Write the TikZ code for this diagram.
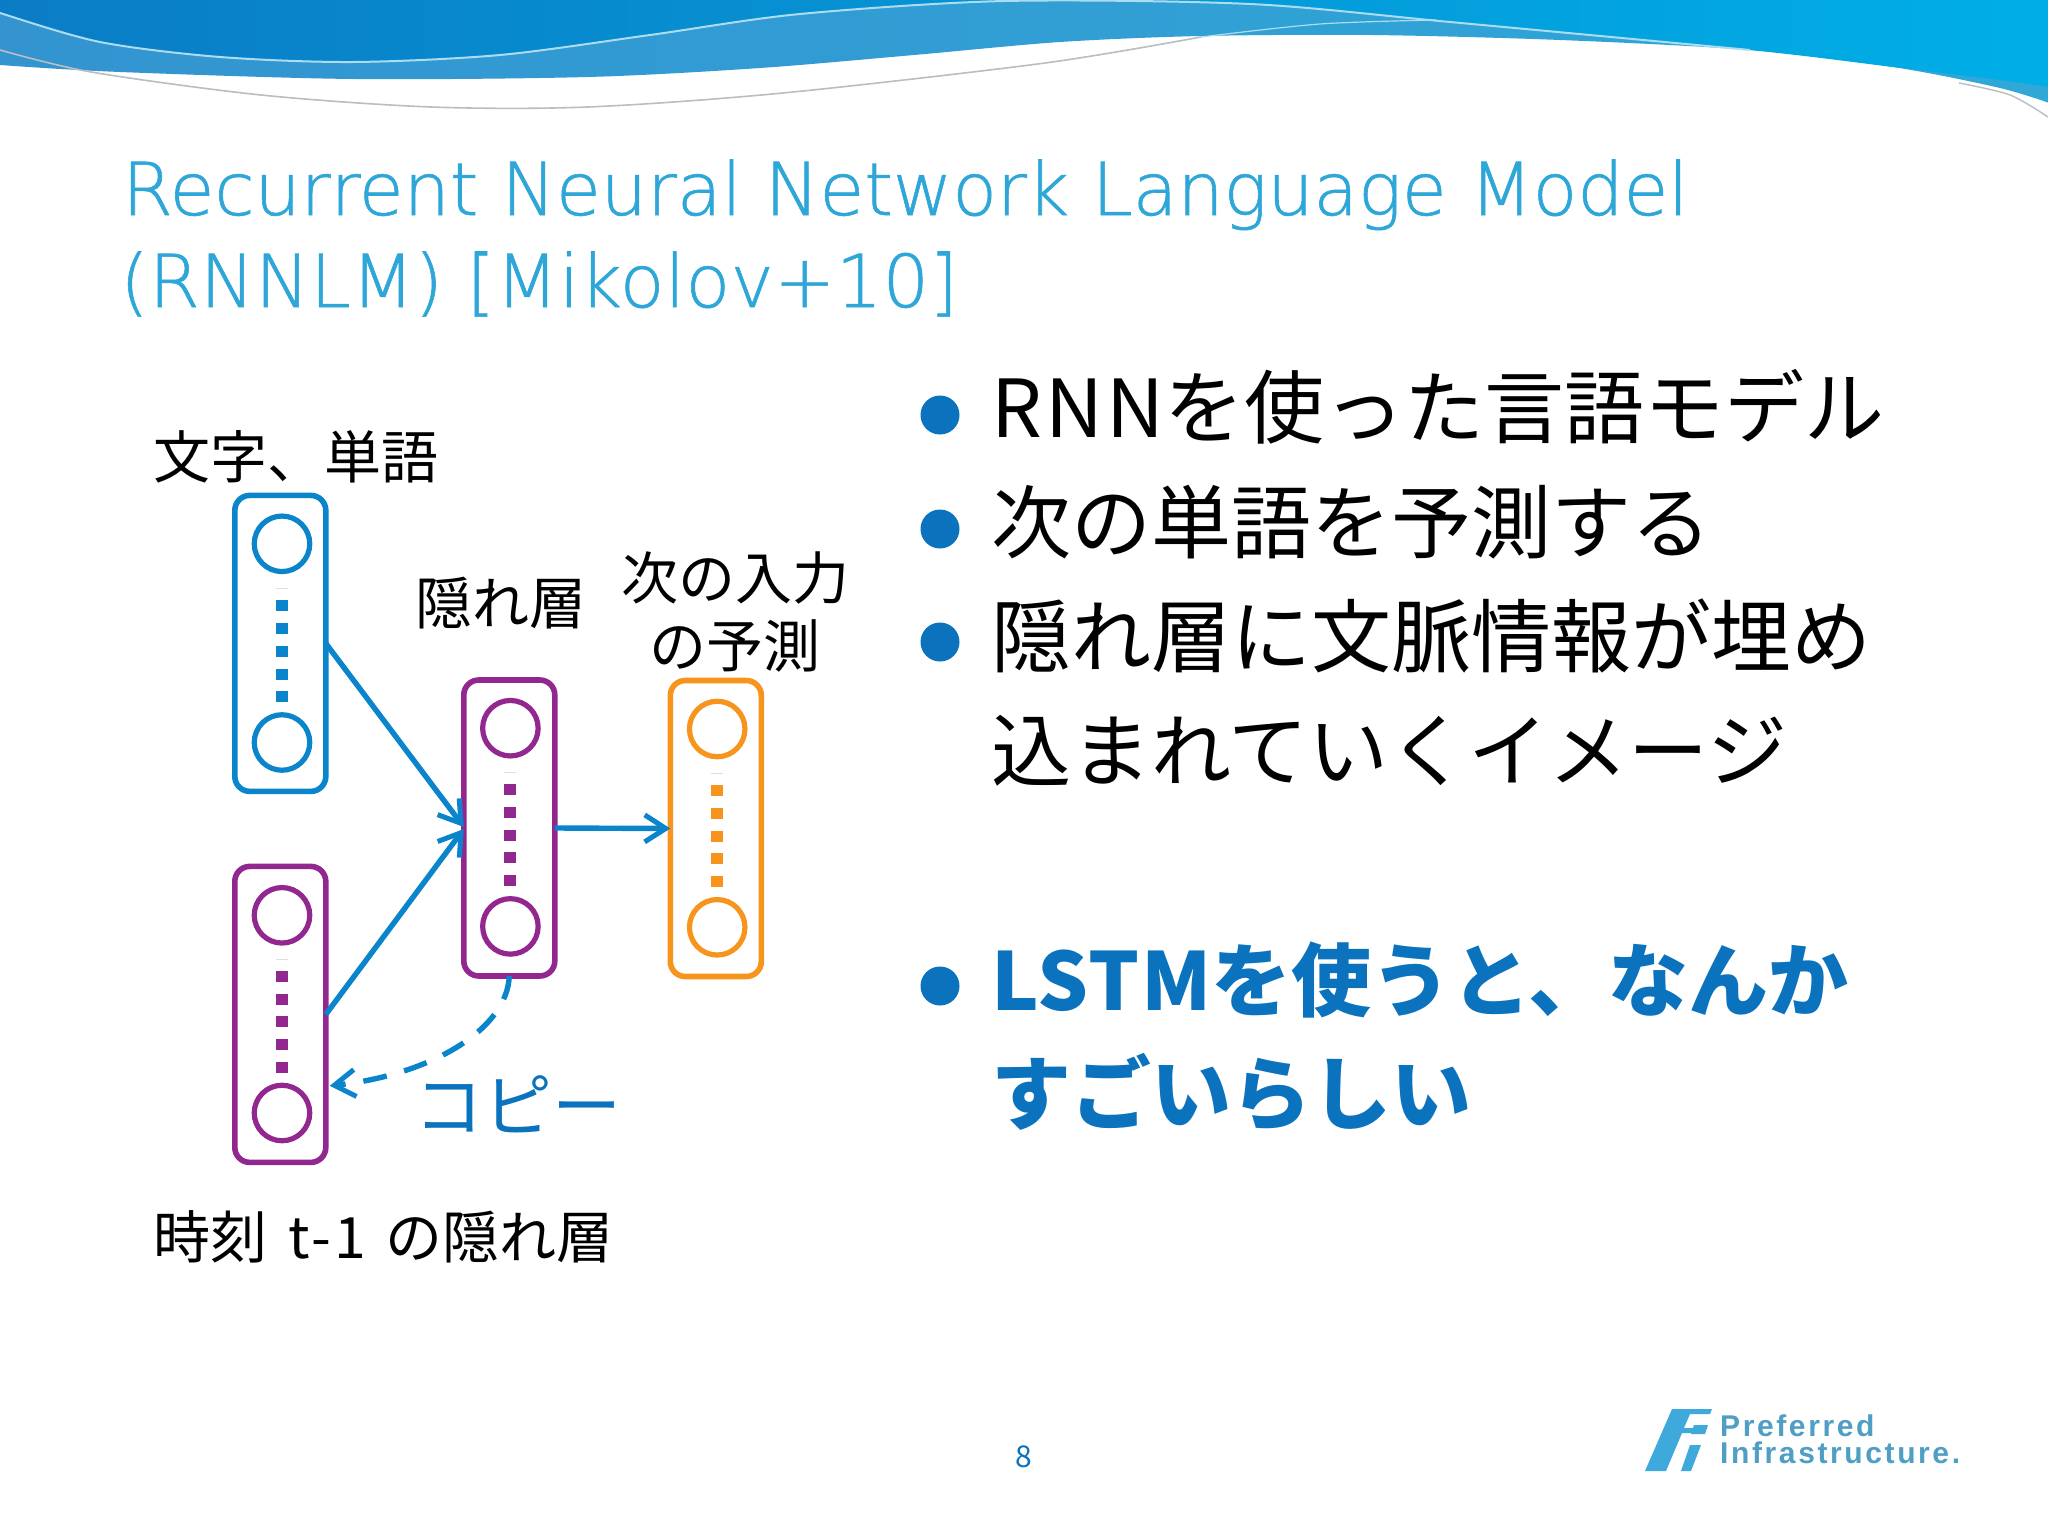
\documentclass[tikz,border=0pt]{standalone}
\usepackage{fontspec}
\setmainfont{Noto Sans CJK JP}
\newfontfamily\thinfont[FakeBold=0.8]{DejaVu Sans ExtraLight}
\newfontfamily\logofont[LetterSpace=8.7]{Liberation Sans}
\usetikzlibrary{arrows.meta,shapes.geometric,calc}
\definecolor{cblue}{HTML}{0A85CC}
\definecolor{cpurple}{HTML}{92278F}
\definecolor{corange}{HTML}{F7941E}
\definecolor{ctitle}{HTML}{2EA7D8}
\definecolor{ctext}{HTML}{0B72BD}
\definecolor{cband}{HTML}{2FA8D8}
\definecolor{cbandl}{HTML}{3394D0}
\definecolor{ctopl}{HTML}{0A7CC5}
\definecolor{ctopr}{HTML}{00AEE6}
\definecolor{cgraycurve}{HTML}{B8BEC2}
\definecolor{clogo}{HTML}{3FA9DC}
\tikzset{
  x=1pt,y=-1pt,
  vecbox/.style={draw=#1,line width=5.6pt,rounded corners=15pt,minimum width=91pt,minimum height=296pt,inner sep=0pt,outer sep=0pt,fill=white},
  unit/.style={draw=#1,line width=5.2pt,circle,minimum size=55.5pt,inner sep=0pt,outer sep=0pt},
  lab/.style={anchor=base,inner sep=0pt,outer sep=0pt,black,font=\fontsize{57}{57}\selectfont},
  bul/.style={anchor=base west,inner sep=0pt,outer sep=0pt,black,font=\fontsize{80}{80}\selectfont},
  bulb/.style={bul,text=ctext,font=\bfseries\fontsize{80}{80}\selectfont},
  dotb/.style={circle,fill=ctext,minimum size=39pt,inner sep=0pt,outer sep=0pt},
  conn/.style={draw=cblue,line width=5.4pt,-{Straight Barb[length=21pt,width=27pt,line width=5pt]}},
  ttl/.style={anchor=base west,inner sep=0pt,text=ctitle,font=\thinfont\fontsize{73}{73}\selectfont},
  lgt/.style={anchor=base west,inner sep=0pt,text=clogo!75!gray,font=\logofont\bfseries\fontsize{30}{30}\selectfont},
}
\newcommand{\dotcol}[3]{%
  \draw[gray!25,line width=1pt] (#1-6,#2-17.4) -- (#1+6,#2-17.4);
  \foreach \k in {0,1,2,3,4}{\fill[#3] (#1-6,#2+\k*22.7-5.5) rectangle (#1+6,#2+\k*22.7+5.5);}
}
\begin{document}
\begin{tikzpicture}
\useasboundingbox (0,0) rectangle (2048,1536);
\fill[white] (0,0) rectangle (2048,1536);
% banner
\begin{scope}
\clip (0,0) rectangle (2048,1536);
\shade[left color=cbandl,right color=cband] plot[smooth] coordinates {(-5,63) (0,65) (120,72) (353,79) (588,77) (760,68) (914,55) (1060,42) (1201,36) (1371,35) (1560,40) (1750,50) (1893,67) (2000,88) (2055,105)} -- (2055,-5) -- (-5,-5) -- cycle;
\shade[left color=ctopl,right color=ctopr] plot[smooth] coordinates {(-5,10) (0,13) (100,42) (220,57) (353,62) (500,55) (650,35) (800,14) (1005,1) (1250,4) (1450,22) (1750,50) (1893,67) (2000,80) (2055,88)} -- (2055,-5) -- (-5,-5) -- cycle;
\draw[white!60!cband,line width=2pt] plot[smooth] coordinates {(-5,10) (0,13) (100,42) (220,57) (353,62) (500,55) (650,35) (800,14) (1005,1) (1250,4) (1450,22) (1750,50)};
\draw[cgraycurve,line width=1.6pt] plot[smooth] coordinates {(0,50) (91,72) (261,95) (431,107) (588,107) (783,93) (1045,63) (1201,37)};
\draw[white!60!cband,line width=1.2pt] plot[smooth] coordinates {(1201,37) (1320,24) (1436,20)};
\draw[cgraycurve,line width=1.4pt] plot[smooth] coordinates {(1959,83) (2010,95) (2048,117)};
\end{scope}
% title
\node[ttl] (title1) at (122,215) {\addfontfeature{LetterSpace=-0.14}Recurrent Neural Network Language Model};
\node[ttl] (title2) at (120,307) {\addfontfeature{LetterSpace=0.55}(RNNLM) [Mikolov+10]};
% boxes
\node[vecbox=cblue] (inp) at (280.3,643.4) {};
\node[vecbox=cpurple] (prev) at (280.3,1014.4) {};
\node[vecbox=cpurple] (hid) at (509.3,828) {};
\node[vecbox=corange] (out) at (715.8,828.5) {};
\node[unit=cblue] (i1) at (282,543.8) {};
\node[unit=cblue] (i2) at (282,742.5) {};
\node[unit=cpurple] (p1) at (282,915.3) {};
\node[unit=cpurple] (p2) at (282,1113) {};
\node[unit=cpurple] (h1) at (510.4,728.2) {};
\node[unit=cpurple] (h2) at (510.4,926.4) {};
\node[unit=corange] (o1) at (717.2,729) {};
\node[unit=corange] (o2) at (717.2,927.3) {};
\dotcol{282}{605.9}{cblue}
\dotcol{282}{976.4}{cpurple}
\dotcol{510.4}{789.8}{cpurple}
\dotcol{717.2}{790.7}{corange}
% connectors
\coordinate (copyend) at (329.7,1085.8);
\draw[conn] (inp.east) -- ($(hid.west)+(0,-1)$);
\draw[conn] (prev.east) -- ($(hid.west)+(0,1)$);
\draw[conn] (hid.east) -- (out.west);
\draw[conn,dash pattern=on 24pt off 18pt] (hid.south) .. controls (507,1030) and (430,1075) .. (copyend);
% labels
\node[lab,anchor=base west] (l1) at (153,478) {文字、単語};
\node[lab] (l2) at (501,624) {隠れ層};
\node[lab] (l3) at (735,599) {次の入力};
\node[lab] (l4) at (735,667) {の予測};
\node[lab,text=ctext,font=\fontsize{69}{69}\selectfont] (l5) at (518,1131) {コピー};
\node[lab,anchor=base west] (l6) at (153,1258) {時刻\hspace{22pt}{\addfontfeature{LetterSpace=5}t-1}\hspace{20pt}の隠れ層};
% bullets
\node[dotb] (d1) at (940,415) {};
\node[dotb] (d2) at (940,529) {};
\node[dotb] (d3) at (940,642) {};
\node[dotb] (d4) at (940,986) {};
\node[bul] (b1) at (991,437) {{\addfontfeature{LetterSpace=4.5}RNN}を使った言語モデル};
\node[bul] (b2) at (991,552) {次の単語を予測する};
\node[bul] (b3) at (991,666) {隠れ層に文脈情報が埋め};
\node[bul] (b4) at (991,780) {込まれていくイメージ};
\node[bulb] (b5) at (991,1010) {{\addfontfeature{LetterSpace=2}LSTM}を使うと、なんか};
\node[bulb] (b6) at (991,1123) {すごいらしい};
% page number
\node[anchor=base,inner sep=0pt,text=ctext,font=\fontsize{30}{30}\selectfont] (pg) at (1024,1467) {8};
% logo
\fill[clogo] (1645,1471) -- (1672,1409) -- (1712,1409) -- (1710,1414) -- (1690,1414) -- (1684,1428) -- (1698,1428) -- (1696,1433) -- (1682,1433) -- (1666,1471) -- cycle;
\fill[clogo] (1694,1425) -- (1708,1425) -- (1705,1434) -- (1691,1434) -- cycle;
\fill[clogo] (1681,1471) -- (1690,1445) -- (1701,1445) -- (1691,1471) -- cycle;
\node[lgt] (lg1) at (1720,1436) {Preferred};
\node[lgt] (lg2) at (1720,1463) {Infrastructure.};
\end{tikzpicture}
\end{document}
